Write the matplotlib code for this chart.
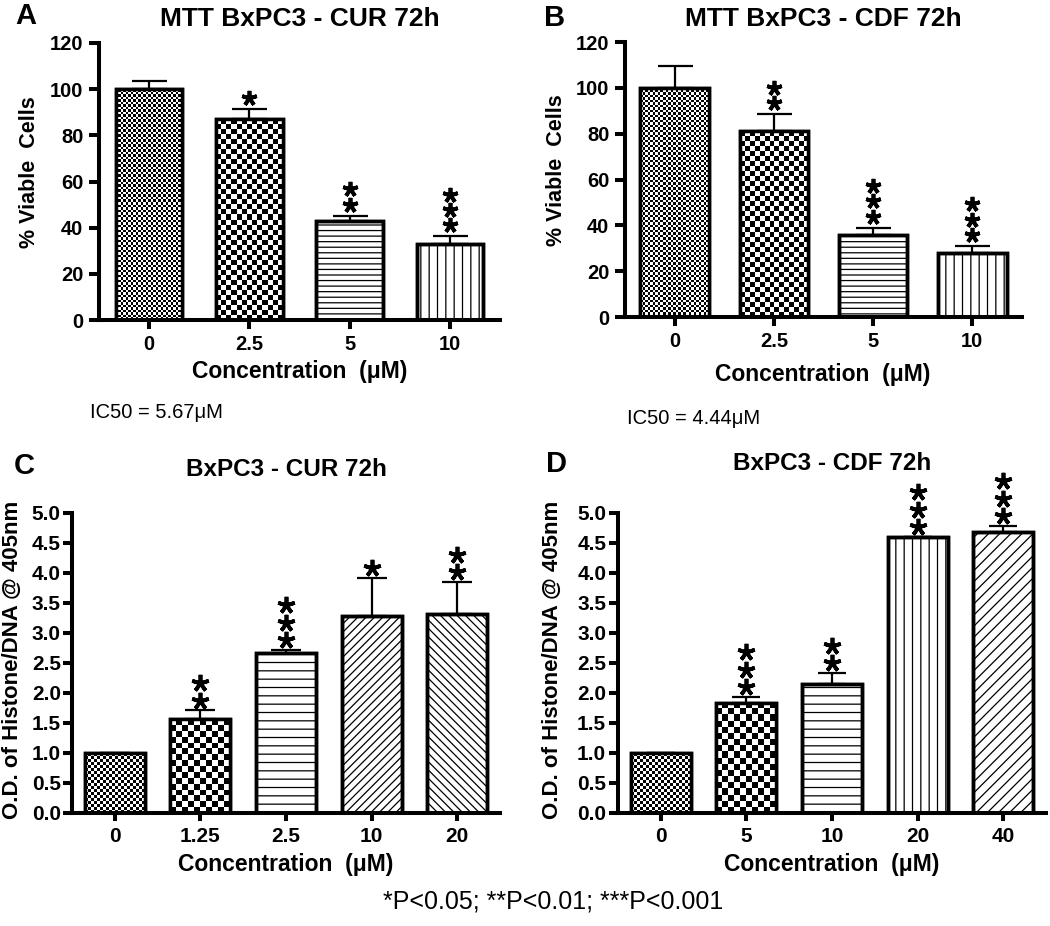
import matplotlib
matplotlib.use('Agg')
import matplotlib.pyplot as plt
import numpy as np
from matplotlib.transforms import offset_copy

plt.rcParams['font.family'] = ['Liberation Sans', 'DejaVu Sans']
plt.rcParams['hatch.linewidth'] = 0.9

# ---------------- data ----------------
a_labels = ['0', '2.5', '5', '10']
a_values = [100, 87, 43, 33]
a_errors = [3.5, 4.5, 2.2, 3.2]
a_stars = [0, 1, 2, 3]

b_labels = ['0', '2.5', '5', '10']
b_values = [100, 81, 36, 28]
b_errors = [9.5, 7.5, 3.0, 3.0]
b_stars = [0, 2, 3, 3]

c_labels = ['0', '1.25', '2.5', '10', '20']
c_values = [1.0, 1.56, 2.66, 3.28, 3.31]
c_errors = [0.0, 0.15, 0.06, 0.64, 0.54]
c_stars = [0, 2, 3, 1, 2]

d_labels = ['0', '5', '10', '20', '40']
d_values = [1.0, 1.84, 2.15, 4.60, 4.69]
d_errors = [0.0, 0.09, 0.18, 0.0, 0.09]
d_stars = [0, 3, 2, 3, 3]

viab_ticks = [0, 20, 40, 60, 80, 100, 120]
od_ticks = [0.0, 0.5, 1.0, 1.5, 2.0, 2.5, 3.0, 3.5, 4.0, 4.5, 5.0]

# ---------------- figure ----------------
W, H, DPI = 1050, 926, 100
fig = plt.figure(figsize=(W / DPI, H / DPI), dpi=DPI)


def add_ax(l, r, b, t):
    return fig.add_axes([l / W, 1 - b / H, (r - l) / W, (b - t) / H]), (r - l), (b - t)


def checker(ax, bar, cell_px, pxw, pxh, xr, yr):
    x0, w, h = bar.get_x(), bar.get_width(), bar.get_height()
    wpx = w / xr * pxw
    hpx = h / yr * pxh
    nx = max(2, int(round(wpx / cell_px)))
    ny = max(2, int(round(hpx / cell_px)))
    arr = (np.add.outer(np.arange(ny), np.arange(nx)) % 2).astype(float)
    im = ax.imshow(arr, cmap='gray', vmin=0, vmax=1, extent=(x0, x0 + w, 0, h),
                   origin='lower', interpolation='nearest', aspect='auto', zorder=2.1)
    im.set_clip_path(bar)


def panel(box, labels, values, errors, stars, fills, ylim, yticks, yfmt,
          width, cells, capsize, star_ms, star_off, star_sp, tsize, ytl, xtl, ypad):
    ax, pxw, pxh = add_ax(*box)
    n = len(values)
    x = np.arange(n)
    xlim = (-0.5, n - 0.5)
    xr = xlim[1] - xlim[0]
    yr = ylim[1] - ylim[0]
    bars = ax.bar(x, values, width, color='white', edgecolor='black', linewidth=2.5, zorder=2)
    for b, f in zip(bars, fills):
        if f == 'fine':
            checker(ax, b, cells[0], pxw, pxh, xr, yr)
        elif f == 'coarse':
            checker(ax, b, cells[1], pxw, pxh, xr, yr)
        else:
            b.set_hatch(f)
    ax.bar(x, values, width, fill=False, edgecolor='black', linewidth=2.5, zorder=3)
    ax.errorbar(x, values, yerr=[np.zeros(n), errors], fmt='none', ecolor='black',
                elinewidth=1.6, capsize=capsize, capthick=1.6, zorder=4)
    tops = np.array(values) + np.array(errors)
    st = np.array(stars)
    for k in range(st.max()):
        sel = st > k
        tr = offset_copy(ax.transData, fig=fig, y=star_off + k * star_sp, units='points')
        ax.plot(x[sel], tops[sel], linestyle='none', marker=(5, 2, 0), ms=star_ms,
                mew=2.7, color='black', transform=tr, clip_on=False, zorder=5)
    ax.set_xlim(*xlim)
    ax.set_ylim(*ylim)
    ax.set_xticks(x, labels, fontweight='bold', fontsize=tsize)
    ax.set_yticks(yticks, [yfmt.format(v) for v in yticks], fontweight='bold', fontsize=tsize)
    ax.spines[['top', 'right']].set_visible(False)
    for s in ('left', 'bottom'):
        ax.spines[s].set_linewidth(2.9)
    ax.tick_params(axis='y', width=2.9, length=ytl, pad=ypad)
    ax.tick_params(axis='x', width=2.9, length=xtl, pad=4)
    ax.set_facecolor('none')
    return ax


fills_ab = ['fine', 'coarse', '---', '||']
fills_c = ['fine', 'coarse', '--', '////', '\\\\\\\\']
fills_d = ['fine', 'coarse', '--', '||', '///']

panel((99, 500, 320, 43), a_labels, a_values, a_errors, a_stars, fills_ab, (0, 120), viab_ticks,
      '{:d}', 0.665, (2.5, 5), 12.6, 11.0, 8.0, 11.0, 14.5, 7, 6.5, 4.3)
panel((625, 1022, 317, 42), b_labels, b_values, b_errors, b_stars, fills_ab, (0, 120), viab_ticks,
      '{:d}', 0.69, (2.5, 5), 12.6, 11.0, 8.0, 11.0, 14.5, 7, 6.5, 4.3)
panel((72, 500, 813, 513), c_labels, c_values, c_errors, c_stars, fills_c, (0, 5), od_ticks,
      '{:.1f}', 0.70, (3, 6), 10.8, 12.5, 7.0, 12.6, 15, 6.5, 6, 1.5)
panel((618, 1046, 813, 513), d_labels, d_values, d_errors, d_stars, fills_d, (0, 5), od_ticks,
      '{:.1f}', 0.70, (3, 6), 10.2, 12.5, 7.0, 12.6, 15, 6.5, 6, 2.0)


def ftext(xp, yp, s, **kw):
    fig.text(xp / W, 1 - yp / H, s, **kw)


bold = dict(fontweight='bold', ha='center', va='center')
# panel letters
ftext(26, 16, 'A', fontsize=21, **bold)
ftext(555, 18, 'B', fontsize=21, **bold)
ftext(24, 466, 'C', fontsize=21, **bold)
ftext(556, 464, 'D', fontsize=21, **bold)
# titles
ftext(299.5, 19, 'MTT BxPC3 - CUR 72h', fontsize=19, **bold)
ftext(823, 19, 'MTT BxPC3 - CDF 72h', fontsize=19, **bold)
ftext(286, 469, 'BxPC3 - CUR 72h', fontsize=17.5, **bold)
ftext(832, 464, 'BxPC3 - CDF 72h', fontsize=17.5, **bold)
# y labels
ftext(30, 172, '% Viable  Cells', fontsize=15.5, rotation=90, **bold)
ftext(556, 170, '% Viable  Cells', fontsize=15.5, rotation=90, **bold)
ftext(12, 660, 'O.D. of Histone/DNA @ 405nm', fontsize=16, rotation=90, **bold)
ftext(552, 660, 'O.D. of Histone/DNA @ 405nm', fontsize=16, rotation=90, **bold)
# x labels
ftext(299.5, 372, 'Concentration  (μM)', fontsize=16.5, **bold)
ftext(823, 374, 'Concentration  (μM)', fontsize=16.5, **bold)
ftext(286, 864, 'Concentration  (μM)', fontsize=16.5, **bold)
ftext(832, 864, 'Concentration  (μM)', fontsize=16.5, **bold)
# notes
ftext(90, 413, 'IC50 = 5.67μM', fontsize=14.5, ha='left', va='center')
ftext(627, 418, 'IC50 = 4.44μM', fontsize=14.5, ha='left', va='center')
ftext(383, 901, '*P<0.05; **P<0.01; ***P<0.001', fontsize=18, ha='left', va='center')

fig.savefig('out.png', dpi=DPI)
